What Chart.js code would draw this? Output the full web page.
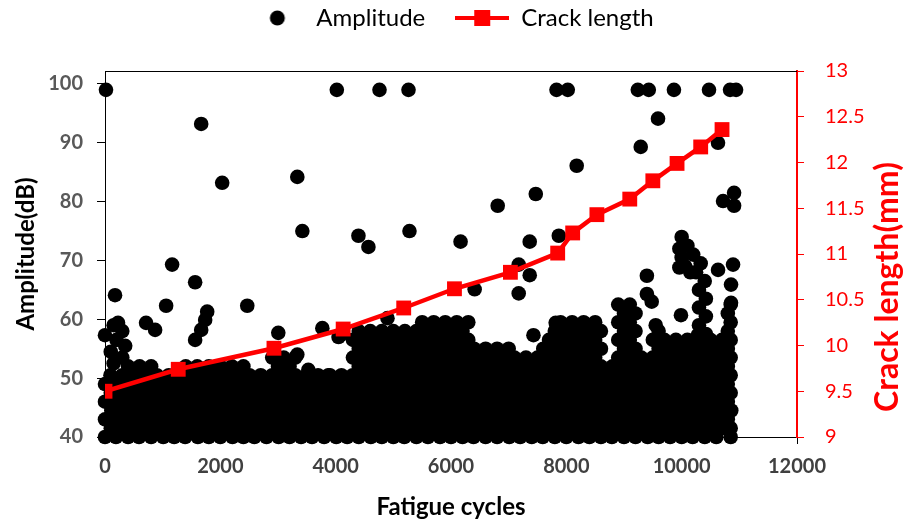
<!DOCTYPE html>
<html>
<head>
<meta charset="utf-8">
<script src="https://cdn.jsdelivr.net/npm/chart.js@4.4.1/dist/chart.umd.min.js"></script>
<style>
  html, body { margin: 0; padding: 0; background: #fff; }
  #wrap { width: 904px; height: 524px; }
</style>
</head>
<body>
<div id="wrap"><canvas id="grafica" width="904" height="524"></canvas></div>
<script>
// ejes
const cycleTicks = [0, 2000, 4000, 6000, 8000, 10000, 12000];
const ampTicks = [40, 50, 60, 70, 80, 90, 100];
const crackTicks = [9, 9.5, 10, 10.5, 11, 11.5, 12, 12.5, 13];

// longitud de grieta (mm) vs ciclos
const crackCycles = [0, 1270, 2930, 4130, 5180, 6060, 7030, 7850, 8110, 8530, 9100, 9500, 9920, 10330, 10700];
const crackLength = [9.50, 9.74, 9.97, 10.18, 10.41, 10.62, 10.80, 11.01, 11.23, 11.43, 11.60, 11.80, 11.99, 12.17, 12.36];

// amplitud: la nube densa, fila por fila (ciclos de cada golpe en ese nivel de dB)
const amp40 = [0,190,400,590,800,1010,1200,1390,1610,1800,2000,2210,2400,2590,2800,3010,3200,3400,3590,3800,4010,4200,4400,4610,4800,5000,5190,5400,5600,5810,6000,6200,6390,6600,6800,7010,7200,7400,7590,7800,8000,8210,8400,8600,8790,9000,9200,9410,9600,9800,10000,10190,10400,10600,10850];
const amp41_5 = [100,300,490,700,910,1100,1300,1500,1700,1900,2110,2300,2500,2700,2900,3100,3310,3500,3700,3900,4100,4300,4510,4700,4900,5100,5300,5500,5700,5900,6110,6300,6500,6700,6900,7100,7300,7500,7700,7900,8100,8300,8500,8700,8900,9100,9300,9500,9710,9900,10100,10300,10500,10700,10850];
const amp43 = [0,210,400,600,790,1000,1210,1400,1600,1790,2000,2200,2410,2600,2800,3000,3190,3400,3610,3800,4000,4190,4400,4600,4790,5000,5210,5400,5590,5800,6010,6200,6400,6610,6800,7000,7190,7400,7610,7800,7990,8200,8400,8610,8800,9000,9190,9400,9600,9810,10000,10210,10400,10590,10800];
const amp44_5 = [110,300,500,690,900,1100,1290,1500,1710,1900,2100,2290,2500,2710,2900,3090,3300,3500,3710,3900,4100,4310,4500,4690,4900,5110,5300,5490,5700,5910,6100,6300,6490,6700,6910,7100,7300,7510,7700,7890,8100,8300,8490,8700,8910,9100,9290,9500,9700,9890,10100,10310,10500,10700,10860];
const amp46 = [0,200,410,600,800,990,1200,1410,1600,1800,2010,2200,2390,2600,2810,3000,3200,3390,3600,3810,4000,4200,4390,4600,4810,5000,5200,5410,5600,5790,6000,6210,6400,6590,6800,7010,7200,7390,7600,7800,8010,8200,8390,8600,8800,9010,9200,9390,9600,9800,10010,10200,10390,10600,10800];
const amp47_5 = [100,290,500,710,900,1090,1300,1500,1690,1900,2100,2310,2500,2690,2900,3110,3300,3490,3700,3900,4090,4300,4500,4710,4900,5090,5300,5500,5690,5900,6100,6290,6500,6700,6890,7100,7310,7500,7690,7900,8100,8290,8500,8710,8900,9090,9300,9510,9700,9900,10090,10300,10510,10700,10850];
const amp49 = [0,205,400,595,800,1005,1200,1400,1595,1800,2005,2200,2400,2605,2800,2995,3200,3405,3600,3800,4005,4200,4400,4595,4800,5005,5200,5400,5605,5800,5995,6200,6405,6600,6800,6995,7200,7400,7605,7800,8000,8195,8400,8600,8805,9000,9200,9405,9600,9795,10000,10200,10405,10600,10800];
const amp50_5 = [95,300,505,700,900,1105,1300,1495,1700,1900,2095,2300,2505,2700,2900,3105,3300,3500,3695,3900,4100,4295,4500,4700,4905,5100,5300,5505,5700,5895,6100,6300,6505,6700,6900,7095,7300,7500,7705,7900,8100,8305,8500,8700,8895,9100,9300,9505,9700,9900,10105,10300,10500,10695,10850];
const amp52 = [400,600,800,1400,1600,1800,2000,2200,2400,3000,3200,4400,4600,4800,5000,5200,5400,5600,5800,6000,6200,6400,6600,6800,7000,7200,7400,7600,7800,8000,8200,8400,8600,8800,9000,9200,9400,9600,9800,10000,10200,10400,10600,10800];
const amp53_5 = [2900,3100,3300,4300,4500,4700,4900,5100,5300,5500,5700,5900,6100,6300,6500,6700,6900,7100,7300,7500,7700,7900,8100,8300,8500,8900,9100,9300,9500,9700,9900,10100,10300,10500,10700,10850];
const amp55 = [4400,4600,4800,5000,5200,5400,5600,5800,6000,6200,6400,6600,6800,7000,7600,7800,8000,8200,8400,8600,9000,9200,9600,9800,10000,10200,10400,10600,10800];
const amp56_5 = [4300,4500,4700,4900,5100,5300,5500,5700,5900,6100,6300,7700,7900,8100,8300,8500,8900,9100,9500,9700,9900,10100,10300,10500,10700,10850];
const amp58 = [4400,4600,4800,5000,5200,5400,5600,5800,6000,6200,7800,8000,8200,8400,8600,9000,9200,9600,10800];
const amp59_5 = [5500,5700,5900,6100,6300,7900,8100,8300,8500,8900,9100,10850];
const amp61 = [9000,9200,10800];
const amp62_5 = [8900,9100,10850];

// columnas y grupos sueltos [ciclos, dB]
const ampColumns = [[150,59],[300,58],[200,56.5],[350,55.5],[100,54.5],[300,53.5],[150,52.5],
  [10300,56],[10420,57.5],[10300,59],[10420,60.5],[10300,62],[10420,63.5],[10300,65],[10400,66.5],
  [10250,68],[10330,69.5],[10200,71],[10100,72.5],[10000,74],[9960,72],[10000,70.5],[10060,69],[10150,68],[9960,68.8]];

// golpes aislados [ciclos, dB]
const ampPeaks = [[17,99],[4020,99],[4760,99],[5263,99],[7830,99],[8025,99],[9240,99],[9430,99],[9866,99],[10474,99],[10839,99],[10943,99],
  [1668,93.2],[9590,94.1],[10630,90],[9290,89.3],[8180,86.1],[3335,84.2],[2032,83.2],[7470,81.3],[10909,81.5],[10718,80.1],[10909,79.3],
  [6810,79.3],[3422,75],[5280,75],[4395,74.2],[7870,74.2],[4568,72.3],[6166,73.2],[7365,73.2],[1164,69.3],[7174,69.3],[10891,69.3],
  [7365,67.5],[1563,66.3],[9397,67.4],[10631,68.4],[6410,65.1],[7174,64.4],[9397,64.3],[174,64.1],[10856,65.9],[10856,62.8],
  [1060,62.3],[2467,62.3],[9480,63],[1772,61.3],[1737,59.9],[1668,58.2],[1563,56.5],[712,59.4],[869,58.2],[226,59.4],[0,57.3],
  [3005,57.7],[3769,58.5],[4082,57.3],[4050,57],[4898,60.2],[9988,60.7],[7815,59.4],[7430,57.3],[9550,59],[10280,57.3],
  [3335,54],[3526,51.4],[3873,50.5]];

const ampRows = [[40, amp40], [41.5, amp41_5], [43, amp43], [44.5, amp44_5], [46, amp46], [47.5, amp47_5],
                 [49, amp49], [50.5, amp50_5], [52, amp52], [53.5, amp53_5], [55, amp55], [56.5, amp56_5],
                 [58, amp58], [59.5, amp59_5], [61, amp61], [62.5, amp62_5]];

const amplitudePoints = ampRows.flatMap(([db, xs]) => xs.map(x => ({ x: x, y: db })))
  .concat(ampColumns.map(p => ({ x: p[0], y: p[1] })))
  .concat(ampPeaks.map(p => ({ x: p[0], y: p[1] })));
const crackPoints = crackCycles.map((c, i) => ({ x: c, y: crackLength[i] }));

const ROJO = '#ff0000';
const tituloCrack = 'Crack length(mm)';

// iconos de la leyenda
function icono(dibujar) {
  const cv = document.createElement('canvas');
  cv.width = 54; cv.height = 18;
  dibujar(cv.getContext('2d'));
  return cv;
}
const iconoAmp = icono(c => { c.fillStyle = '#000'; c.beginPath(); c.arc(27, 9, 7.5, 0, Math.PI * 2); c.fill(); });
const iconoCrack = icono(c => {
  c.strokeStyle = ROJO; c.lineWidth = 4; c.beginPath(); c.moveTo(0, 9); c.lineTo(54, 9); c.stroke();
  c.fillStyle = ROJO; c.fillRect(19, 1, 16, 16);
});

// la leyenda ocupa algo mas de alto y se dibuja arriba del todo
const ajusteLeyenda = {
  id: 'ajusteLeyenda',
  beforeInit(chart) {
    const fitOriginal = chart.legend.fit;
    chart.legend.fit = function () { fitOriginal.bind(chart.legend)(); this.height += 7; };
  },
  afterLayout(chart) {
    chart.legend.top -= 24;
    chart.legend.bottom -= 24;
  }
};

const bordeSuperior = {
  id: 'bordeSuperior',
  beforeDatasetsDraw(chart) {
    const { ctx, chartArea } = chart;
    ctx.save();
    ctx.strokeStyle = '#000'; ctx.lineWidth = 1;
    ctx.beginPath();
    ctx.moveTo(chartArea.left, chartArea.top + 0.5);
    ctx.lineTo(chartArea.right, chartArea.top + 0.5);
    ctx.stroke();
    ctx.restore();
  }
};

const tituloDerecho = {
  id: 'tituloDerecho',
  afterDraw(chart) {
    const { ctx, chartArea } = chart;
    const escala = chart.scales.y1;
    ctx.save();
    ctx.translate(escala.right - 16, (chartArea.top + chartArea.bottom) / 2 + 33);
    ctx.rotate(-Math.PI / 2);
    ctx.font = 'bold 32px Lato';
    ctx.fillStyle = ROJO;
    ctx.textAlign = 'center';
    ctx.textBaseline = 'middle';
    ctx.fillText(tituloCrack, 0, 0);
    ctx.restore();
  }
};

Chart.defaults.font.family = 'Lato';

new Chart(document.getElementById('grafica'), {
  type: 'scatter',
  data: {
    datasets: [
      {
        label: 'Amplitude',
        data: amplitudePoints,
        yAxisID: 'y',
        order: 2,
        pointRadius: 7.3,
        pointHoverRadius: 7.3,
        pointBackgroundColor: '#000',
        pointBorderWidth: 0,
        clip: false
      },
      {
        label: 'Crack length',
        data: crackPoints,
        yAxisID: 'y1',
        order: 1,
        showLine: true,
        borderColor: ROJO,
        borderWidth: 4.5,
        pointStyle: 'rect',
        pointRadius: 10.5,
        pointBackgroundColor: ROJO,
        pointBorderColor: ROJO,
        pointBorderWidth: 0
      }
    ]
  },
  options: {
    responsive: false,
    animation: false,
    devicePixelRatio: 1,
    layout: { padding: 0 },
    plugins: {
      tooltip: { enabled: false },
      legend: {
        position: 'top',
        labels: {
          usePointStyle: true,
          pointStyleWidth: 54,
          padding: 30,
          color: '#000',
          font: { size: 24 },
          sort: (a, b) => a.datasetIndex - b.datasetIndex,
          generateLabels(chart) {
            const items = Chart.defaults.plugins.legend.labels.generateLabels(chart);
            items.forEach(it => { it.pointStyle = it.datasetIndex === 0 ? iconoAmp : iconoCrack; });
            return items;
          }
        }
      }
    },
    scales: {
      x: {
        type: 'linear',
        min: 0, max: 12000,
        afterBuildTicks: s => { s.ticks = cycleTicks.map(v => ({ value: v })); },
        afterFit: s => { s.height = 87; },
        grid: { drawOnChartArea: false, color: '#000', tickLength: 7 },
        border: { color: '#000', width: 1 },
        ticks: {
          color: '#404040', padding: 11,
          font: { size: 20, weight: 'bold' },
          callback: v => String(v)
        },
        title: { display: true, text: 'Fatigue cycles', color: '#000', font: { size: 24, weight: 'bold', lineHeight: 1 }, padding: { top: 0, bottom: 5 } }
      },
      y: {
        position: 'left',
        min: 40, max: 102.2,
        afterBuildTicks: s => { s.ticks = ampTicks.map(v => ({ value: v })); },
        afterFit: s => { s.width = 105; },
        grid: { drawOnChartArea: false, color: '#000', tickLength: 8 },
        border: { color: '#000', width: 1 },
        ticks: { color: '#595959', padding: 14, font: { size: 20, weight: 'bold' } },
        title: { display: true, text: 'Amplitude(dB)', color: '#000', font: { size: 24, weight: 'bold', lineHeight: 1 }, padding: { top: 14, bottom: 0 } }
      },
      y1: {
        position: 'right',
        min: 9, max: 13,
        afterBuildTicks: s => { s.ticks = crackTicks.map(v => ({ value: v })); },
        afterFit: s => { s.width = 107; },
        grid: { drawOnChartArea: false, color: ROJO, tickLength: 7 },
        border: { color: ROJO, width: 2 },
        ticks: { color: ROJO, padding: 21, font: { size: 20 }, callback: v => String(v) }
      }
    }
  },
  plugins: [ajusteLeyenda, bordeSuperior, tituloDerecho]
});
</script>
</body>
</html>
